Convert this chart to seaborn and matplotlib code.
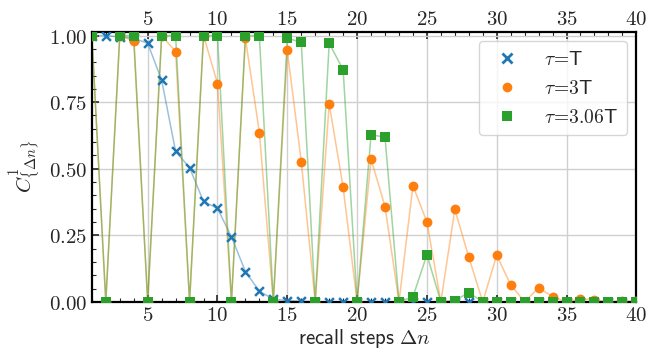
import numpy as np
import pandas as pd
import seaborn as sns
import matplotlib
matplotlib.use("Agg")
import matplotlib.pyplot as plt
from matplotlib.ticker import MultipleLocator, FuncFormatter
from matplotlib.lines import Line2D

steps = list(range(1, 41))
tau_T = [1.0, 1.0, 0.995, 0.99, 0.971, 0.833, 0.565, 0.504, 0.377, 0.351,
         0.244, 0.114, 0.040, 0.010, 0.005, 0.002, 0.001, 0.0, 0.0, 0.0,
         0.0, 0.0, 0.0, 0.0, 0.0, 0.0, 0.0, 0.0, 0.0, 0.0,
         0.0, 0.0, 0.0, 0.0, 0.0, 0.0, 0.0, 0.0, 0.0, 0.0]
tau_3T = [1.0, 0.0, 1.0, 0.98, 0.0, 1.0, 0.94, 0.0, 1.0, 0.82,
          0.0, 0.99, 0.636, 0.0, 0.944, 0.527, 0.0, 0.744, 0.43, 0.0,
          0.536, 0.358, 0.0, 0.436, 0.30, 0.0, 0.347, 0.168, 0.0, 0.175,
          0.064, 0.0, 0.053, 0.02, 0.0, 0.012, 0.008, 0.0, 0.003, 0.002]
tau_306T = [1.0, 0.0, 1.0, 1.0, 0.0, 1.0, 1.0, 0.0, 1.0, 1.0,
            0.0, 1.0, 1.0, 0.0, 0.99, 0.975, 0.0, 0.971, 0.872, 0.0,
            0.628, 0.618, 0.0, 0.019, 0.177, 0.0, 0.005, 0.035, 0.0, 0.0,
            0.0, 0.0, 0.0, 0.0, 0.0, 0.0, 0.0, 0.0, 0.0, 0.0]
labels = [r'$\tau\!=\!\mathsf{T}$', r'$\tau\!=\!\mathsf{3T}$', r'$\tau\!=\!\mathsf{3.06T}$']

sns.set_style("ticks")
plt.rcParams['mathtext.fontset'] = 'cm'
plt.rcParams['font.family'] = ['DejaVu Sans']

fig = plt.figure(figsize=(6.56, 3.51), dpi=100)
ax = fig.add_axes([0.140, 0.140, 0.830, 0.770])

colors = ['#1f77b4', '#ff7f0e', '#2ca02c']
markers = ['x', 'o', 's']
sizes = [40, 50, 50]
series = [tau_T, tau_3T, tau_306T]

for vals, c, m, s in zip(series, colors, markers, sizes):
    df = pd.DataFrame({'step': steps, 'val': vals})
    sns.lineplot(data=df, x='step', y='val', ax=ax, color=c, alpha=0.45,
                 linewidth=1.1, legend=False)
    if m == 'x':
        sns.scatterplot(data=df, x='step', y='val', ax=ax, color=c, marker=m,
                        s=s, linewidth=1.8, legend=False, zorder=3)
    else:
        sns.scatterplot(data=df, x='step', y='val', ax=ax, color=c, marker=m,
                        s=s, linewidth=0, legend=False, zorder=3)

ax.set_xlim(1, 40)
ax.set_ylim(0, 1.015)
ax.xaxis.set_major_locator(MultipleLocator(5))
ax.xaxis.set_minor_locator(MultipleLocator(1))
ax.yaxis.set_major_locator(MultipleLocator(0.25))
ax.yaxis.set_minor_locator(MultipleLocator(0.05))
ax.xaxis.set_major_formatter(FuncFormatter(lambda v, p: f'${v:g}$'))
ax.yaxis.set_major_formatter(FuncFormatter(lambda v, p: f'${v:.2f}$'))
ax.tick_params(axis='both', which='both', direction='in', labelsize=15,
               top=True, labeltop=True, right=False)
ax.tick_params(which='major', length=5, width=1.2)
ax.tick_params(which='minor', length=3, width=0.8)
ax.tick_params(axis='x', pad=2)
for sp in ax.spines.values():
    sp.set_linewidth(1.6)
    sp.set_color('black')
ax.grid(True, which='major', color='#d0d0d0', linewidth=1.0)
ax.set_axisbelow(True)

ax.set_xlabel(r'$\mathsf{recall\ steps}\ \Delta n$', fontsize=15)
ax.xaxis.set_label_coords(0.5, -0.093)
ax.set_ylabel(r'$C^{1}_{\{\Delta n\}}$', fontsize=15, labelpad=4)

handles = [Line2D([], [], linestyle='none', marker=m, color=c,
                  markersize=7, markeredgewidth=2 if m == 'x' else 0)
           for m, c in zip(markers, colors)]
leg = ax.legend(handles, labels, loc='upper right', fontsize=14,
                frameon=True, fancybox=True, framealpha=0.8,
                borderaxespad=0.5, handletextpad=0.9, labelspacing=0.5,
                borderpad=0.45)
leg.get_frame().set_edgecolor('#cccccc')

fig.savefig('out.png', dpi=100)
